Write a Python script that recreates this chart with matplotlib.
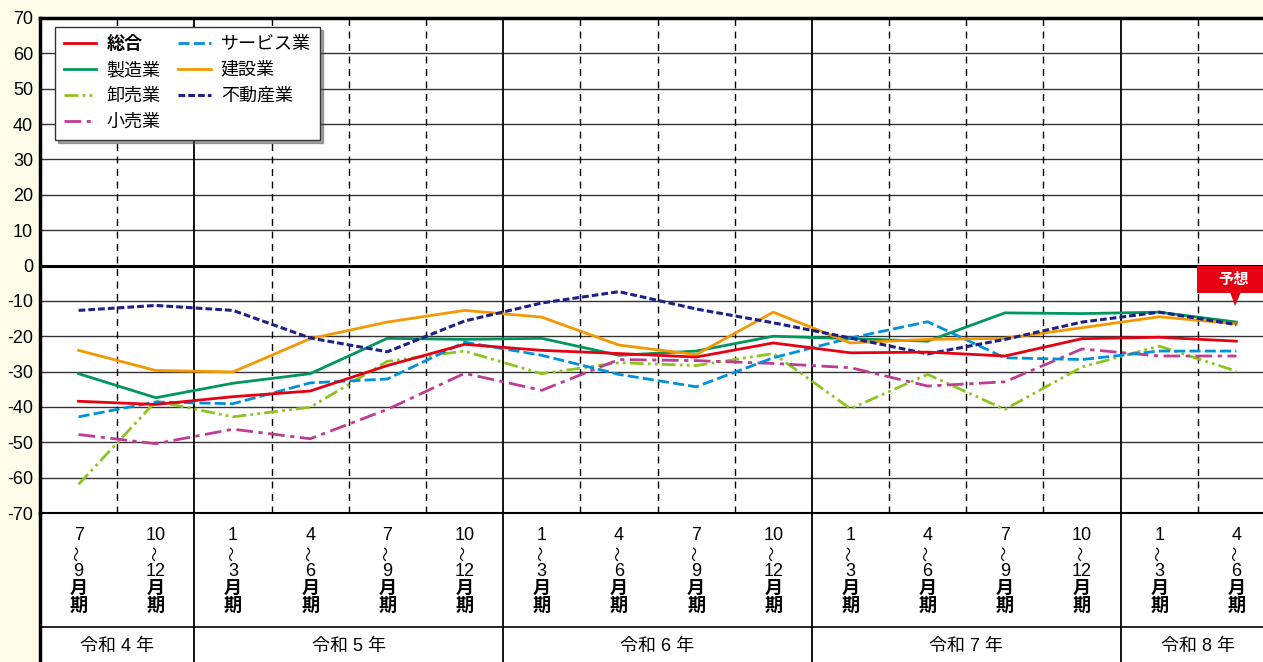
import matplotlib
matplotlib.use("Agg")
import matplotlib.pyplot as plt
import matplotlib.transforms as mtransforms
from matplotlib.patches import Rectangle, Polygon

plt.rcParams["font.family"] = ["Liberation Sans", "Noto Sans CJK JP", "DejaVu Sans"]
plt.rcParams["axes.unicode_minus"] = False

# quarters (令和4年7~9月期 .. 令和8年4~6月期)
start_months = ["7", "10", "1", "4", "7", "10", "1", "4", "7", "10", "1", "4", "7", "10", "1", "4"]
end_months = ["9", "12", "3", "6", "9", "12", "3", "6", "9", "12", "3", "6", "9", "12", "3", "6"]
year_labels = ["令和 4 年", "令和 5 年", "令和 6 年", "令和 7 年", "令和 8 年"]
year_quarters = [2, 4, 4, 4, 2]

sogo = [-38.4, -39.3, -37.1, -35.5, -28.3, -22.3, -24.0, -24.9, -25.9, -21.9, -24.7, -24.5, -25.6, -20.7, -20.3, -21.4]
seizo = [-30.6, -37.4, -33.3, -30.6, -20.6, -20.9, -20.6, -25.4, -24.2, -20.0, -20.7, -21.4, -13.4, -13.6, -13.2, -16.0]
oroshi = [-61.9, -38.4, -42.8, -40.1, -27.1, -24.2, -30.6, -27.5, -28.3, -24.9, -40.5, -30.8, -40.7, -28.7, -22.8, -29.9]
kouri = [-47.8, -50.4, -46.3, -49.0, -40.7, -30.5, -35.3, -26.6, -26.9, -27.7, -28.9, -34.1, -32.9, -23.6, -25.6, -25.6]
service = [-42.8, -38.6, -39.1, -33.2, -32.1, -21.7, -25.4, -30.8, -34.3, -26.1, -20.5, -15.9, -26.1, -26.6, -24.2, -24.2]
kensetsu = [-24.0, -29.7, -30.1, -20.7, -16.0, -12.7, -14.6, -22.5, -25.2, -13.2, -21.9, -20.9, -20.6, -17.6, -14.5, -16.5]
fudosan = [-12.7, -11.3, -12.7, -20.5, -24.4, -15.7, -10.6, -7.4, -12.3, -16.2, -20.5, -25.0, -20.9, -16.0, -13.2, -16.7]

W, H = 1263, 662
fig = plt.figure(figsize=(W / 100, H / 100), dpi=100)
fig.patch.set_facecolor("#fffcea")

# white panel behind plot and label rows
fig.patches.append(Rectangle((40 / W, 0), 1 - 40 / W, (H - 18) / H,
                             transform=fig.transFigure, facecolor="white",
                             edgecolor="none", zorder=-5))

ax = fig.add_axes([40 / W, 1 - 513 / H, 1235 / W, 495 / H])
ax.set_facecolor("white")
x = list(range(len(start_months)))

ax.set_xlim(-0.5, 15.5)
ax.set_ylim(-70, 70)
ax.set_yticks(range(-70, 71, 10))
ax.set_xticks([])
ax.tick_params(axis="y", length=0, labelsize=13, pad=5)
ax.spines["right"].set_visible(False)
ax.spines["left"].set_linewidth(2.5)
ax.spines["top"].set_linewidth(2.5)
ax.spines["bottom"].set_linewidth(1.5)

for v in range(-60, 70, 10):
    if v == 0:
        ax.axhline(0, color="black", lw=2.2, zorder=1)
    else:
        ax.axhline(v, color="#333333", lw=1, zorder=1)

year_bounds = []
pos = 0
for n in year_quarters[:-1]:
    pos += n
    year_bounds.append(pos - 0.5)

for b in [i + 0.5 for i in range(15)]:
    if b in year_bounds:
        ax.axvline(b, color="black", lw=1.3, zorder=1)
    else:
        ax.axvline(b, color="black", lw=1, linestyle=(0, (5, 4)), zorder=1)

ax.plot(x, sogo, color="#e60012", lw=2, label="総合", zorder=5)
ax.plot(x, seizo, color="#00965e", lw=2, label="製造業", zorder=3)
ax.plot(x, oroshi, color="#8fc31f", lw=2, linestyle=(0, (5, 1.5, 1, 1.5, 1, 1.5)), label="卸売業", zorder=3)
ax.plot(x, kouri, color="#be3c94", lw=2, linestyle=(0, (6, 2, 1.5, 2)), label="小売業", zorder=3)
ax.plot(x, service, color="#0091db", lw=2, linestyle=(0, (4, 1.5)), label="サービス業", zorder=3)
ax.plot(x, kensetsu, color="#f39800", lw=2, label="建設業", zorder=3)
ax.plot(x, fudosan, color="#1d2088", lw=2.2, linestyle=(0, (2.2, 1)), label="不動産業", zorder=4)

leg = ax.legend(loc="upper left", bbox_to_anchor=(0.012, 0.982), borderaxespad=0,
                ncol=2, fontsize=13, frameon=True, fancybox=False, shadow=True,
                edgecolor="#333333", framealpha=1, handlelength=1.8,
                handletextpad=0.55, columnspacing=1.0, labelspacing=0.5,
                borderpad=0.5)
leg.get_frame().set_linewidth(1)
leg.get_texts()[0].set_fontweight("bold")
leg.set_zorder(10)

# x labels under the plot
tr = mtransforms.blended_transform_factory(ax.transData, fig.transFigure)
rows = [535, 553, 571, 589, 606]
for i in x:
    chars = [start_months[i], "〜", end_months[i], "月", "期"]
    for c, yp in zip(chars, rows):
        if c == "〜":
            ax.text(i, 1 - yp / H, c, transform=tr, ha="center", va="center",
                    fontsize=11, rotation=90, clip_on=False)
        else:
            fw = "bold" if c in ("月", "期") else "normal"
            ax.text(i, 1 - yp / H, c, transform=tr, ha="center", va="center",
                    fontsize=13, fontweight=fw, clip_on=False)

pos = -0.5
for lab, n in zip(year_labels, year_quarters):
    ax.text(pos + n / 2, 1 - 647 / H, lab, transform=tr, ha="center",
            va="center", fontsize=13, clip_on=False)
    pos += n

# table lines
for b in year_bounds:
    ax.plot([b, b], [0, 1 - 513 / H], transform=tr, color="black", lw=1.3, clip_on=False)
fig.add_artist(plt.Line2D([40 / W, 1], [1 - 627 / H] * 2, color="black", lw=1.2))
fig.add_artist(plt.Line2D([40 / W, 40 / W], [0, 1 - 513 / H], color="black", lw=2.5))

# 予想 callout
fig.patches.append(Rectangle((1197 / W, 1 - 293 / H), 66 / W, 27 / H,
                             transform=fig.transFigure, facecolor="#e60012",
                             edgecolor="none", zorder=20))
fig.patches.append(Polygon([(1230 / W, 1 - 292 / H), (1241 / W, 1 - 292 / H), (1235 / W, 1 - 306 / H)],
                           closed=True, transform=fig.transFigure,
                           facecolor="#e60012", edgecolor="none", zorder=20))
fig.text(1234 / W, 1 - 280 / H, "予想", color="white", fontsize=11,
         fontweight="bold", ha="center", va="center", zorder=21)

fig.savefig("out.png", dpi=100, facecolor=fig.get_facecolor())
